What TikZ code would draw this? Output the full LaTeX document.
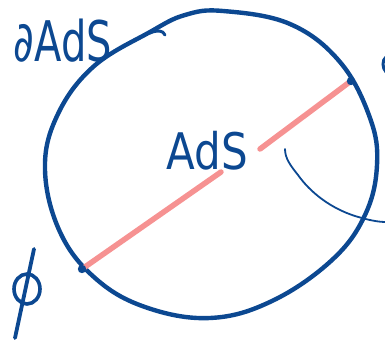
\documentclass[tikz,border=0pt]{standalone}
\usepackage{fontspec}
\setmainfont{DejaVu Sans}
\usetikzlibrary{shapes.geometric}
\definecolor{inkblue}{RGB}{12,72,145}
\definecolor{inkpink}{RGB}{246,146,146}
\tikzset{
  bluestroke/.style={draw=inkblue,line width=4.4pt,line cap=round,line join=round},
  thinstroke/.style={draw=inkblue,line width=1.8pt,line cap=round},
  pinkstroke/.style={draw=inkpink,line width=5.5pt,line cap=round},
  handlabel/.style={text=inkblue,inner sep=0pt},
}
\begin{document}
\begin{tikzpicture}[x=1pt,y=-1pt]
\useasboundingbox (0,0) rectangle (385,350);
% boundary circle (hand drawn)
\draw[bluestroke] plot[smooth cycle,tension=0.65] coordinates {
 (223,11) (290,24) (340,62) (370,118) (377,165) (365,215) (332,260) (272,301)
 (210,318) (145,307) (95,278) (60,232) (45,170) (57,116) (93,67) (150,32) (185,15)};
% small hook where the hand-drawn circle closes
\coordinate (hookA) at (150,33);
\coordinate (hookB) at (165,35);
\draw[bluestroke,line width=3pt] (hookA) .. controls (157,30) and (163,30) .. (hookB);
% geodesic
\coordinate (pL) at (82,269);
\coordinate (pR) at (351,81);
\coordinate (gapL) at (221,172);
\coordinate (gapR) at (260,149);
\draw[pinkstroke] (pL) -- (gapL);
\draw[pinkstroke] (gapR) -- (pR);
\fill[inkblue] (pL) circle (4.2pt);
\fill[inkblue] (pR) circle (4.2pt);
% labels
\node[handlabel] (bdy) at (63,41) {\scalebox{1}[1.4]{\fontsize{40}{40}\selectfont ∂AdS}};
\node[handlabel] (ads) at (207,151) {\scalebox{1}[1.2]{\fontsize{42}{42}\selectfont AdS}};
% thin pointer at right
\coordinate (tA) at (285,149);
\coordinate (tB) at (386,222);
\draw[thinstroke] (tA) .. controls (285,158) and (290,165) .. (298,175) .. controls (310,192) and (330,208) .. (355,216) .. controls (368,220) and (378,222) .. (tB);
% cut-off mark at top right
\coordinate (mA) at (386,57);
\coordinate (mB) at (386,72);
\draw[thinstroke,line width=3pt] (mA) .. controls (382,60) and (382,68) .. (mB);
% phi
\node[ellipse,draw=inkblue,line width=3.6pt,minimum width=26pt,minimum height=30pt,inner sep=0pt] (phio) at (27,289) {};
\coordinate (phiT) at (34,249);
\coordinate (phiB) at (15,338);
\draw[bluestroke,line width=3.8pt] (phiT) -- (phiB);
\end{tikzpicture}
\end{document}
